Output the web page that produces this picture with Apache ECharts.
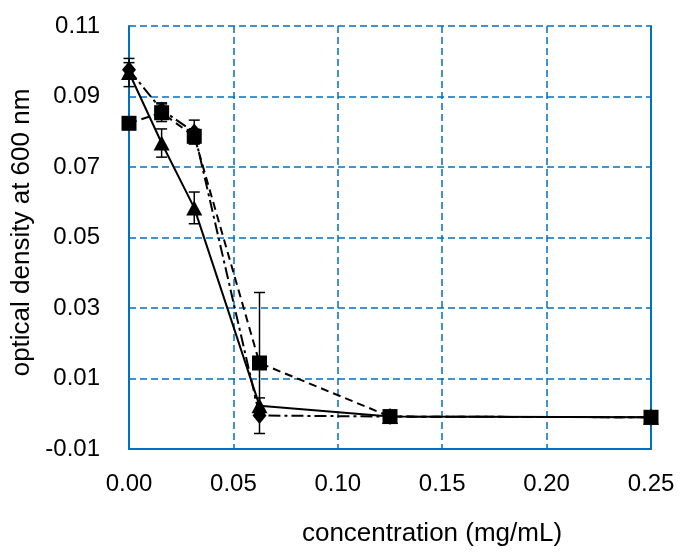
<!DOCTYPE html>
<html>
<head>
<meta charset="utf-8">
<script src="https://cdn.jsdelivr.net/npm/echarts@6/dist/echarts.min.js"></script>
<style>
  html, body { margin: 0; padding: 0; background: #fff; }
  #chart { width: 680px; height: 552px; }
</style>
</head>
<body>
<div id="chart"></div>
<script>
// Concentrations (two-fold dilution series, mg/mL)
const concentrations = [0, 0.015625, 0.03125, 0.0625, 0.125, 0.25];

// Optical density at 600 nm and standard deviations for each treatment
const solidTriangle = [0.0968, 0.0768, 0.0584, 0.0023, -0.0008, -0.0010];
const solidTriangleErr = [0.004, 0.004, 0.0045, 0.0022, 0, 0];

const dashedSquare = [0.0824, 0.0854, 0.0787, 0.0144, -0.0008, -0.0010];
const dashedSquareErr = [0, 0.0025, 0.002, 0.020, 0, 0];

const dashDotDiamond = [0.0976, 0.0862, 0.0799, -0.0005, -0.0008, -0.0010];
const dashDotDiamondErr = [0.002, 0.002, 0.0034, 0, 0, 0];

// Axis ticks
const yTicks = { min: -0.01, max: 0.11, step: 0.02 };
const xTicks = { min: 0, max: 0.25, step: 0.05 };

const blue = '#0070C0';
const font = 'Liberation Sans, Arial, sans-serif';

function pairs(vals) {
  return concentrations.map((c, i) => [c, vals[i]]);
}
function errPairs(vals, errs) {
  return concentrations.map((c, i) => [c, vals[i], errs[i]]);
}

// Vertical error bars with caps
function errorBarRender(params, api) {
  const x = api.value(0);
  const y = api.value(1);
  const e = api.value(2);
  if (!e) return null;
  const hi = api.coord([x, y + e]);
  const lo = api.coord([x, y - e]);
  const half = 5.5;
  const style = { stroke: '#000', lineWidth: 1.5 };
  return {
    type: 'group',
    children: [
      { type: 'line', shape: { x1: hi[0], y1: hi[1], x2: lo[0], y2: lo[1] }, style },
      { type: 'line', shape: { x1: hi[0] - half, y1: hi[1], x2: hi[0] + half, y2: hi[1] }, style },
      { type: 'line', shape: { x1: lo[0] - half, y1: lo[1], x2: lo[0] + half, y2: lo[1] }, style }
    ]
  };
}

function errorSeries(vals, errs) {
  return {
    type: 'custom',
    renderItem: errorBarRender,
    data: errPairs(vals, errs),
    encode: { x: 0, y: 1 },
    z: 1,
    silent: true
  };
}

const chart = echarts.init(document.getElementById('chart'), null, { renderer: 'canvas' });

chart.setOption({
  animation: false,
  backgroundColor: '#fff',
  grid: { left: 129, right: 29, top: 26, bottom: 96, containLabel: false },
  xAxis: {
    type: 'value',
    min: xTicks.min,
    max: xTicks.max,
    interval: xTicks.step,
    name: 'concentration (mg/mL)',
    nameLocation: 'middle',
    nameGap: 72,
    nameTextStyle: { fontFamily: font, fontSize: 26, color: '#000', padding: [0, 0, 0, 84] },
    axisLine: { show: true, onZero: false, lineStyle: { color: blue, width: 2 } },
    axisTick: { show: false },
    axisLabel: {
      fontFamily: font, fontSize: 24, color: '#000', margin: 23,
      formatter: v => v.toFixed(2)
    },
    splitLine: { show: true, lineStyle: { color: blue, width: 1.5, type: [7, 4] } }
  },
  yAxis: [{
    type: 'value',
    min: yTicks.min,
    max: yTicks.max,
    interval: yTicks.step,
    name: 'optical density at 600 nm',
    nameLocation: 'middle',
    nameGap: 88,
    nameTextStyle: { fontFamily: font, fontSize: 26, color: '#000', padding: [0, 0, 0, 10] },
    axisLine: { show: true, onZero: false, lineStyle: { color: blue, width: 2 } },
    axisTick: { show: false },
    axisLabel: {
      fontFamily: font, fontSize: 24, color: '#000', margin: 29,
      formatter: v => v.toFixed(2)
    },
    splitLine: { show: true, lineStyle: { color: blue, width: 1.5, type: [7, 4] } }
  }, {
    type: 'value',
    position: 'right',
    min: yTicks.min,
    max: yTicks.max,
    interval: yTicks.step,
    axisLine: { show: true, onZero: false, lineStyle: { color: blue, width: 2 } },
    axisTick: { show: false },
    axisLabel: { show: false },
    splitLine: { show: false }
  }],
  series: [
    errorSeries(solidTriangle, solidTriangleErr),
    errorSeries(dashedSquare, dashedSquareErr),
    errorSeries(dashDotDiamond, dashDotDiamondErr),
    {
      name: 'diamond',
      type: 'line',
      data: pairs(dashDotDiamond),
      symbol: 'diamond',
      symbolSize: [14, 17],
      showAllSymbol: true,
      itemStyle: { color: '#000' },
      lineStyle: { color: '#000', width: 2, type: [12, 4, 3, 4] },
      z: 3
    },
    {
      name: 'triangle',
      type: 'line',
      data: pairs(solidTriangle),
      symbol: 'triangle',
      symbolSize: [16, 15],
      showAllSymbol: true,
      itemStyle: { color: '#000' },
      lineStyle: { color: '#000', width: 2, type: 'solid' },
      z: 4
    },
    {
      name: 'square',
      type: 'line',
      data: pairs(dashedSquare),
      symbol: 'rect',
      symbolSize: 15,
      showAllSymbol: true,
      itemStyle: { color: '#000' },
      lineStyle: { color: '#000', width: 2, type: [8, 5] },
      z: 5
    }
  ]
});
</script>
</body>
</html>
